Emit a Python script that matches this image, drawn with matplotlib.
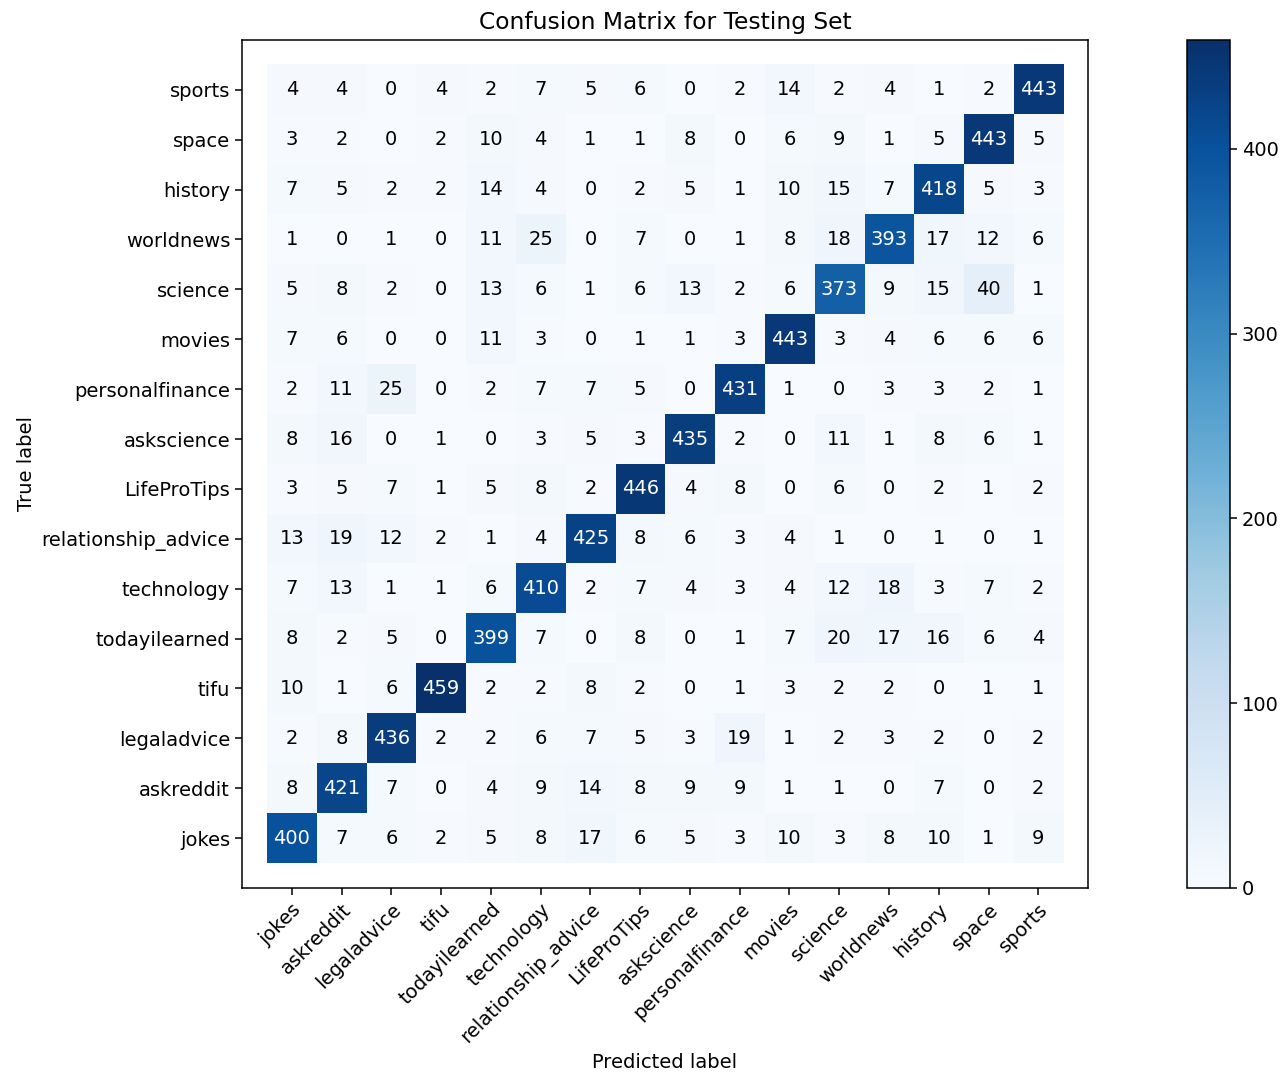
import numpy as np
import matplotlib
matplotlib.use("Agg")
import matplotlib.pyplot as plt

# Class names in matrix order (row/column index 0 = jokes)
classes = ["jokes", "askreddit", "legaladvice", "tifu", "todayilearned",
           "technology", "relationship_advice", "LifeProTips", "askscience",
           "personalfinance", "movies", "science", "worldnews", "history",
           "space", "sports"]

# Rows = true label, columns = predicted label
jokes_row = [400, 7, 6, 2, 5, 8, 17, 6, 5, 3, 10, 3, 8, 10, 1, 9]
askreddit_row = [8, 421, 7, 0, 4, 9, 14, 8, 9, 9, 1, 1, 0, 7, 0, 2]
legaladvice_row = [2, 8, 436, 2, 2, 6, 7, 5, 3, 19, 1, 2, 3, 2, 0, 2]
tifu_row = [10, 1, 6, 459, 2, 2, 8, 2, 0, 1, 3, 2, 2, 0, 1, 1]
todayilearned_row = [8, 2, 5, 0, 399, 7, 0, 8, 0, 1, 7, 20, 17, 16, 6, 4]
technology_row = [7, 13, 1, 1, 6, 410, 2, 7, 4, 3, 4, 12, 18, 3, 7, 2]
relationship_advice_row = [13, 19, 12, 2, 1, 4, 425, 8, 6, 3, 4, 1, 0, 1, 0, 1]
lifeprotips_row = [3, 5, 7, 1, 5, 8, 2, 446, 4, 8, 0, 6, 0, 2, 1, 2]
askscience_row = [8, 16, 0, 1, 0, 3, 5, 3, 435, 2, 0, 11, 1, 8, 6, 1]
personalfinance_row = [2, 11, 25, 0, 2, 7, 7, 5, 0, 431, 1, 0, 3, 3, 2, 1]
movies_row = [7, 6, 0, 0, 11, 3, 0, 1, 1, 3, 443, 3, 4, 6, 6, 6]
science_row = [5, 8, 2, 0, 13, 6, 1, 6, 13, 2, 6, 373, 9, 15, 40, 1]
worldnews_row = [1, 0, 1, 0, 11, 25, 0, 7, 0, 1, 8, 18, 393, 17, 12, 6]
history_row = [7, 5, 2, 2, 14, 4, 0, 2, 5, 1, 10, 15, 7, 418, 5, 3]
space_row = [3, 2, 0, 2, 10, 4, 1, 1, 8, 0, 6, 9, 1, 5, 443, 5]
sports_row = [4, 4, 0, 4, 2, 7, 5, 6, 0, 2, 14, 2, 4, 1, 2, 443]

cm = np.array([jokes_row, askreddit_row, legaladvice_row, tifu_row,
               todayilearned_row, technology_row, relationship_advice_row,
               lifeprotips_row, askscience_row, personalfinance_row,
               movies_row, science_row, worldnews_row, history_row,
               space_row, sports_row])

plt.rcParams["font.family"] = ["DejaVu Sans"]
fs = 14

fig = plt.figure(figsize=(12.82, 10.74), dpi=100)
ax = fig.add_axes([0.1888, 0.1732, 0.6599, 0.7896])
cax = fig.add_axes([0.9259, 0.1732, 0.0335, 0.7896])

n = len(classes)
im = ax.imshow(cm, interpolation="nearest", cmap="Blues", origin="lower",
               vmin=0, vmax=cm.max(), aspect="auto")
ax.set_xlim(-1, n)
ax.set_ylim(-1, n)

ax.set_xticks(np.arange(n))
ax.set_yticks(np.arange(n))
ax.set_xticklabels(classes, rotation=45, ha="right", rotation_mode="anchor",
                   fontsize=fs)
ax.set_yticklabels(classes, fontsize=fs)
ax.tick_params(length=5, width=1.1)
for s in ax.spines.values():
    s.set_linewidth(1.1)

thresh = cm.max() / 2.0
for i in range(n):
    for j in range(n):
        ax.text(j, i, format(cm[i, j], "d"), ha="center", va="center",
                fontsize=fs,
                color="white" if cm[i, j] > thresh else "black")

ax.set_title("Confusion Matrix for Testing Set", fontsize=fs * 1.2, pad=8)
ax.set_xlabel("Predicted label", fontsize=fs)
ax.set_ylabel("True label", fontsize=fs)

cb = fig.colorbar(im, cax=cax, ticks=[0, 100, 200, 300, 400])
cb.ax.tick_params(labelsize=fs, length=5, width=1.1)
cb.outline.set_linewidth(1.1)

fig.savefig("out.png", dpi=100)
